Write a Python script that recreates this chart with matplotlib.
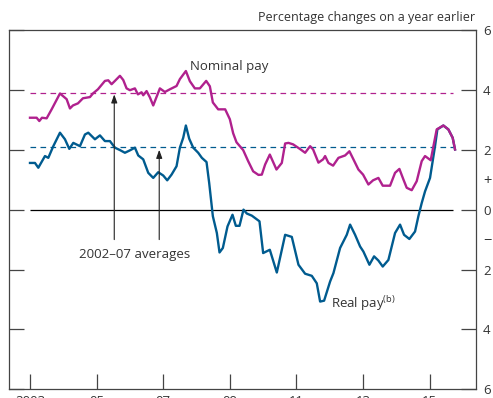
import matplotlib
matplotlib.use('Agg')
import matplotlib.pyplot as plt
import numpy as np

plt.rcParams['font.family'] = ['Open Sans', 'DejaVu Sans']

# Nominal pay growth (decimal year, % change on a year earlier)
nominal_dates = [2003.00, 2003.20, 2003.28, 2003.36, 2003.50, 2003.65, 2003.90, 2004.10, 2004.20,
                 2004.29, 2004.44, 2004.59, 2004.80, 2004.89, 2005.04, 2005.25, 2005.35, 2005.45,
                 2005.55, 2005.70, 2005.80, 2005.90, 2006.00, 2006.15, 2006.24, 2006.35, 2006.40,
                 2006.50, 2006.60, 2006.70, 2006.90, 2007.05, 2007.20, 2007.40, 2007.50, 2007.68,
                 2007.80, 2007.95, 2008.10, 2008.29, 2008.40, 2008.49, 2008.56, 2008.65, 2008.86,
                 2009.00, 2009.10, 2009.20, 2009.40, 2009.55, 2009.70, 2009.86, 2009.96, 2010.06,
                 2010.20, 2010.40, 2010.56, 2010.66, 2010.76, 2010.90, 2011.10, 2011.26, 2011.41,
                 2011.50, 2011.66, 2011.80, 2011.86, 2011.96, 2012.10, 2012.26, 2012.46, 2012.59,
                 2012.71, 2012.86, 2013.00, 2013.16, 2013.30, 2013.46, 2013.59, 2013.81, 2013.96,
                 2014.09, 2014.21, 2014.31, 2014.46, 2014.61, 2014.76, 2014.86, 2015.03, 2015.21,
                 2015.41, 2015.56, 2015.69, 2015.76]
nominal_pay = [3.07, 3.07, 2.96, 3.07, 3.05, 3.35, 3.88, 3.69, 3.38,
               3.48, 3.55, 3.72, 3.76, 3.88, 4.02, 4.30, 4.32, 4.19,
               4.30, 4.47, 4.33, 4.05, 3.99, 4.05, 3.85, 3.92, 3.82,
               3.96, 3.75, 3.48, 4.05, 3.93, 4.02, 4.13, 4.36, 4.63,
               4.29, 4.05, 4.05, 4.30, 4.12, 3.58, 3.48, 3.35, 3.35,
               3.02, 2.55, 2.25, 1.99, 1.62, 1.28, 1.16, 1.17, 1.51,
               1.84, 1.34, 1.56, 2.21, 2.23, 2.18, 2.03, 1.90, 2.12,
               2.01, 1.57, 1.68, 1.79, 1.56, 1.47, 1.73, 1.81, 1.95,
               1.68, 1.34, 1.17, 0.84, 0.98, 1.06, 0.80, 0.80, 1.23,
               1.36, 1.01, 0.73, 0.65, 0.95, 1.62, 1.79, 1.65, 2.68,
               2.81, 2.68, 2.40, 2.01]

# Real pay growth
real_dates = [2003.00, 2003.15, 2003.25, 2003.45, 2003.55, 2003.70, 2003.90, 2004.05, 2004.18,
              2004.30, 2004.50, 2004.65, 2004.75, 2004.95, 2005.10, 2005.25, 2005.40, 2005.55,
              2005.70, 2005.85, 2006.00, 2006.15, 2006.25, 2006.40, 2006.55, 2006.70, 2006.85,
              2007.00, 2007.12, 2007.25, 2007.40, 2007.50, 2007.60, 2007.68, 2007.78, 2007.90,
              2008.05, 2008.16, 2008.30, 2008.38, 2008.49, 2008.61, 2008.69, 2008.79, 2008.93,
              2009.08, 2009.18, 2009.29, 2009.41, 2009.51, 2009.66, 2009.89, 2010.00, 2010.20,
              2010.41, 2010.66, 2010.86, 2011.06, 2011.26, 2011.46, 2011.61, 2011.71, 2011.83,
              2012.01, 2012.11, 2012.31, 2012.51, 2012.61, 2012.76, 2012.91, 2013.01, 2013.19,
              2013.33, 2013.46, 2013.59, 2013.76, 2013.96, 2014.11, 2014.23, 2014.39, 2014.56,
              2014.66, 2014.76, 2014.86, 2015.01, 2015.16, 2015.23, 2015.41, 2015.56, 2015.69,
              2015.76]
real_pay = [1.56, 1.56, 1.40, 1.79, 1.73, 2.12, 2.57, 2.35, 2.03,
            2.23, 2.12, 2.51, 2.57, 2.35, 2.48, 2.29, 2.29, 2.07,
            1.99, 1.90, 1.98, 2.07, 1.81, 1.68, 1.23, 1.06, 1.25,
            1.14, 0.98, 1.17, 1.45, 2.07, 2.40, 2.81, 2.37, 2.07,
            1.90, 1.73, 1.59, 0.89, -0.22, -0.78, -1.43, -1.28, -0.56,
            -0.17, -0.54, -0.54, 0.00, -0.13, -0.20, -0.39, -1.45, -1.34,
            -2.10, -0.84, -0.91, -1.84, -2.14, -2.21, -2.46, -3.07, -3.04,
            -2.40, -2.12, -1.28, -0.84, -0.50, -0.84, -1.23, -1.40, -1.84,
            -1.56, -1.70, -1.90, -1.68, -0.78, -0.50, -0.84, -0.98, -0.73,
            -0.22, 0.22, 0.61, 1.06, 2.12, 2.68, 2.81, 2.68, 2.40,
            2.01]

# 2002-07 averages
nominal_avg = 3.9
real_avg = 2.1

year_ticks = [2003, 2005, 2007, 2009, 2011, 2013, 2015]
year_labels = ['2003', '05', '07', '09', '11', '13', '15']
y_ticks = [-6, -4, -2, 0, 2, 4, 6]
y_labels = ['6', '4', '2', '0', '2', '4', '6']

MAGENTA = '#B0218E'
BLUE = '#005B8F'
TEXT = '#333333'

fig = plt.figure(figsize=(4.93, 3.98), dpi=100)
ax = fig.add_axes([9 / 493, (398 - 389.3) / 398, 467 / 493, 359.3 / 398])

x0, x1 = nominal_dates[0], nominal_dates[-1] - 0.05

# averages and zero line
ax.hlines(nominal_avg, x0, x1, colors=MAGENTA, linestyles=(0, (4.5, 3.5)), linewidth=0.9)
ax.hlines(real_avg, x0, x1, colors=BLUE, linestyles=(0, (4.5, 3.5)), linewidth=0.9)
ax.hlines(0, x0, x1, colors='black', linewidth=0.9)

ax.plot(real_dates, real_pay, color=BLUE, linewidth=1.7, solid_joinstyle='round')
ax.plot(nominal_dates, nominal_pay, color=MAGENTA, linewidth=1.7, solid_joinstyle='round')

# arrows pointing at the averages
arrow_kw = dict(arrowstyle='-|>,head_length=0.5,head_width=0.18', color='#222222', lw=0.8,
                shrinkA=0, shrinkB=0)
ax.annotate('', xy=(2005.53, 3.85), xytext=(2005.53, -1.0), arrowprops=arrow_kw)
ax.annotate('', xy=(2006.88, 2.0), xytext=(2006.88, -1.0), arrowprops=arrow_kw)
ax.text(2006.15, -1.5, '2002–07 averages', ha='center', va='center', fontsize=9.5, color=TEXT)

ax.text(2007.8, 4.78, 'Nominal pay', ha='left', va='center', fontsize=9.5, color=TEXT)
ax.text(2012.04, -3.12, 'Real pay$^{\\mathregular{(b)}}$', ha='left', va='center',
        fontsize=9.5, color=TEXT)

ax.set_xlim(2002.37, 2016.39)
ax.set_ylim(-6, 6)

ax.set_xticks(year_ticks)
ax.set_xticklabels(year_labels)
ax.set_yticks(y_ticks)
ax.set_yticklabels(y_labels)
ax.set_yticks([1, -1], minor=True)
ax.set_yticklabels(['+', '−'], minor=True)

ax.tick_params(axis='x', direction='in', length=10.8, width=0.9, color='#444444',
               labelsize=9.5, labelcolor=TEXT, pad=4.3, top=False)
ax.tick_params(axis='y', which='major', direction='in', length=10.8, width=0.9,
               color='#444444', left=True, right=True, labelleft=False, labelright=True,
               labelsize=9.5, labelcolor=TEXT, pad=5)
ax.tick_params(axis='y', which='minor', length=0, left=False, right=False,
               labelleft=False, labelright=True, labelsize=10.5, labelcolor=TEXT, pad=5)

for s in ax.spines.values():
    s.set_color('#444444')
    s.set_linewidth(0.9)

fig.text(475 / 493, 1 - 18 / 398, 'Percentage changes on a year earlier', ha='right', va='center',
         fontsize=9, color=TEXT)

fig.savefig('out.png', dpi=100)
